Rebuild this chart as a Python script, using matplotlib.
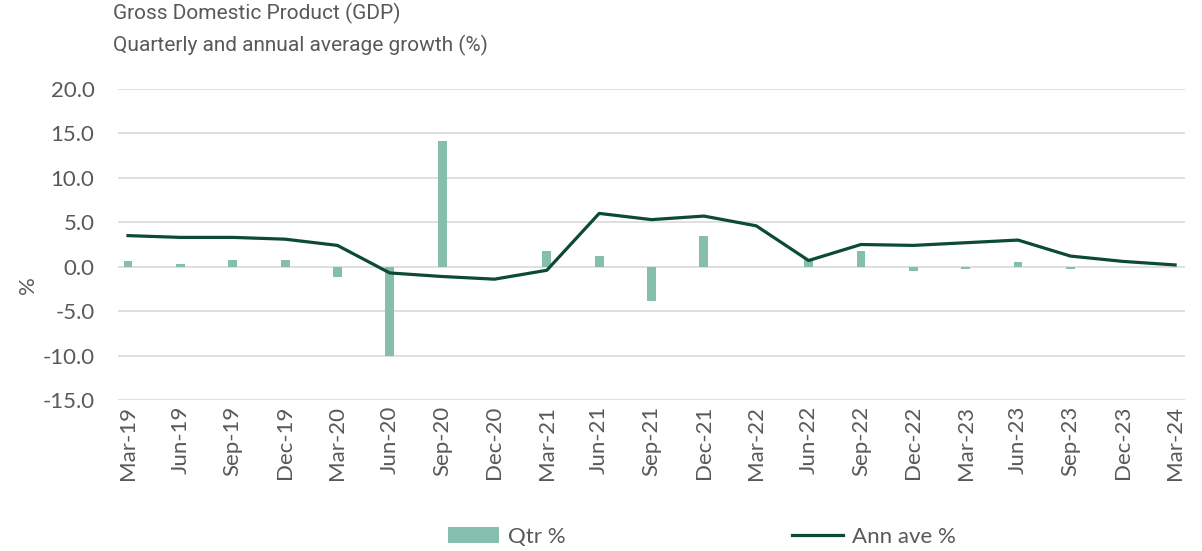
import matplotlib
matplotlib.use('Agg')
import matplotlib.pyplot as plt
import numpy as np

# quarters shown on the x axis
quarters = ['Mar-19', 'Jun-19', 'Sep-19', 'Dec-19', 'Mar-20', 'Jun-20', 'Sep-20',
            'Dec-20', 'Mar-21', 'Jun-21', 'Sep-21', 'Dec-21', 'Mar-22', 'Jun-22',
            'Sep-22', 'Dec-22', 'Mar-23', 'Jun-23', 'Sep-23', 'Dec-23', 'Mar-24']

# quarterly growth (%)
qtr_pct = [0.6, 0.3, 0.8, 0.8, -1.2, -10.1, 14.1,
           0.0, 1.8, 1.2, -3.9, 3.5, 0.0, 0.9,
           1.8, -0.5, -0.3, 0.5, -0.3, 0.0, 0.0]

# annual average growth (%)
ann_ave_pct = [3.5, 3.3, 3.3, 3.1, 2.4, -0.7, -1.1,
               -1.4, -0.4, 6.0, 5.3, 5.7, 4.6, 0.7,
               2.5, 2.4, 2.7, 3.0, 1.2, 0.6, 0.2]

y_ticks = [-15, -10, -5, 0, 5, 10, 15, 20]

bar_color = '#86BEAE'
line_color = '#0B4A36'
text_color = '#595959'
grid_color = '#D9D9D9'

plt.rcParams['font.family'] = ['Lato', 'DejaVu Sans']

fig = plt.figure(figsize=(12.02, 5.51), dpi=100)
ax = fig.add_axes([0.0982, 0.274, 0.8877, 0.5645])

x = np.arange(len(quarters))
bars = ax.bar(x, qtr_pct, width=0.17, color=bar_color, label='Qtr %', zorder=2)
line, = ax.plot(x, ann_ave_pct, color=line_color, linewidth=2.3, label='Ann ave %', zorder=3)

ax.set_ylim(-15, 20)
ax.set_xlim(-0.19, len(quarters) - 1 + 0.19)
ax.set_yticks(y_ticks)
ax.set_yticklabels([f'{v:.1f}' for v in y_ticks])
ax.set_xticks(x)
ax.set_xticklabels(quarters, rotation=90)

ax.grid(axis='y', color=grid_color, linewidth=1.2, zorder=0)
ax.set_axisbelow(True)
for s in ax.spines.values():
    s.set_visible(False)
ax.tick_params(axis='y', length=0, pad=17, labelsize=16, labelcolor=text_color)
ax.tick_params(axis='x', length=0, pad=4, labelsize=16, labelcolor=text_color)

fig.text(0.023, 0.483, '%', rotation=90, fontsize=16, color=text_color,
         ha='center', va='center')

fig.text(0.094, 0.995, 'Gross Domestic Product (GDP)', fontsize=15,
         family='Roboto', color=text_color, va='top')
fig.text(0.094, 0.937, 'Quarterly and annual average growth (%)', fontsize=15,
         family='Roboto', color=text_color, va='top')

fig.legend([bars, line], ['Qtr %', 'Ann ave %'], loc='center',
           bbox_to_anchor=(702 / 1202, 1 - 537 / 551), ncol=2,
           frameon=False, fontsize=16, labelcolor=text_color,
           handlelength=2.3, handletextpad=0.4, columnspacing=10.2)

fig.savefig('out.png', dpi=100)
